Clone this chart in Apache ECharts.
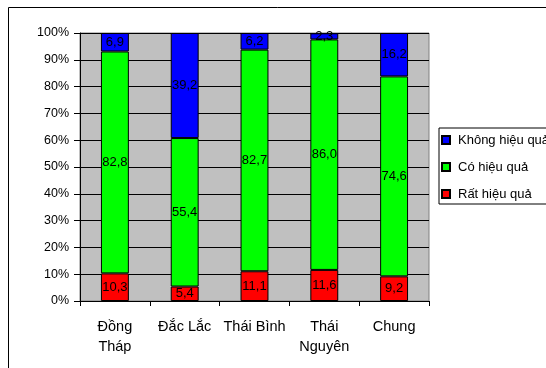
<!DOCTYPE html>
<html>
<head>
<meta charset="utf-8">
<script src="https://cdn.jsdelivr.net/npm/echarts@6/dist/echarts.min.js"></script>
<style>
  html, body { margin: 0; padding: 0; background: #fff; }
  #chart { width: 546px; height: 368px; }
</style>
</head>
<body>
<div id="chart"></div>
<script>
// Regions surveyed, plus the overall figure
const categories = ['Đồng\nTháp', 'Đắc Lắc', 'Thái Bình', 'Thái\nNguyên', 'Chung'];

// Share of answers (%) per rating, stacked bottom to top
const ratVeryEffective = [10.3, 5.4, 11.1, 11.6, 9.2];   // Rất hiệu quả
const ratEffective     = [82.8, 55.4, 82.7, 86.0, 74.6]; // Có hiệu quả
const ratNotEffective  = [6.9, 39.2, 6.2, 2.3, 16.2];    // Không hiệu quả

const seriesNames = ['Rất hiệu quả', 'Có hiệu quả', 'Không hiệu quả'];
const yTicks = [0, 10, 20, 30, 40, 50, 60, 70, 80, 90, 100];

const FONT = '"Liberation Sans", Arial, sans-serif';

function fmt(v) {
  return v.toFixed(1).replace('.', ',');
}

function barSeries(name, data, color) {
  return {
    name: name,
    type: 'bar',
    stack: 'total',
    barWidth: '40%',
    data: data,
    itemStyle: { color: color, borderColor: '#000', borderWidth: 1 },
    label: {
      show: true,
      position: 'inside',
      color: '#000',
      fontFamily: FONT,
      fontSize: 13,
      formatter: function (p) { return fmt(p.value); }
    }
  };
}

const chart = echarts.init(document.getElementById('chart'), null, { renderer: 'canvas' });

chart.setOption({
  animation: false,
  backgroundColor: '#fff',
  graphic: [{
    type: 'rect',
    shape: { x: 8.5, y: 7.5, width: 700, height: 500 },
    style: { fill: 'none', stroke: '#000', lineWidth: 1 },
    z: -1
  }],
  grid: {
    left: 80, top: 33, width: 349, height: 268,
    show: true,
    backgroundColor: '#c0c0c0',
    borderColor: '#808080',
    borderWidth: 1
  },
  legend: {
    orient: 'vertical',
    left: 439, top: 128,
    padding: [5, 8, 3, 2],
    itemWidth: 8, itemHeight: 8,
    itemGap: 13,
    icon: 'rect',
    borderColor: '#000',
    borderWidth: 1,
    backgroundColor: '#fff',
    data: ['Không hiệu quả', 'Có hiệu quả', 'Rất hiệu quả'],
    textStyle: { fontFamily: FONT, fontSize: 13, color: '#000', lineHeight: 14, padding: [0, 0, 0, 3] }
  },
  xAxis: {
    type: 'category',
    data: categories,
    axisLine: { show: true, lineStyle: { color: '#000', width: 1 } },
    axisTick: { show: true, length: 5, alignWithLabel: false, lineStyle: { color: '#000' } },
    axisLabel: {
      interval: 0,
      margin: 16,
      color: '#000',
      fontFamily: FONT,
      fontSize: 14.5,
      lineHeight: 20
    }
  },
  yAxis: {
    type: 'value',
    min: yTicks[0],
    max: yTicks[yTicks.length - 1],
    interval: yTicks[1] - yTicks[0],
    axisLine: { show: true, lineStyle: { color: '#000', width: 1 } },
    axisTick: { show: true, length: 6, lineStyle: { color: '#000' } },
    splitLine: { show: true, lineStyle: { color: '#000', width: 1 } },
    axisLabel: {
      margin: 11,
      color: '#000',
      fontFamily: FONT,
      fontSize: 12.5,
      formatter: '{value}%'
    }
  },
  series: [
    barSeries(seriesNames[0], ratVeryEffective, '#ff0000'),
    barSeries(seriesNames[1], ratEffective, '#00ff00'),
    barSeries(seriesNames[2], ratNotEffective, '#0000ff')
  ]
});
</script>
</body>
</html>
